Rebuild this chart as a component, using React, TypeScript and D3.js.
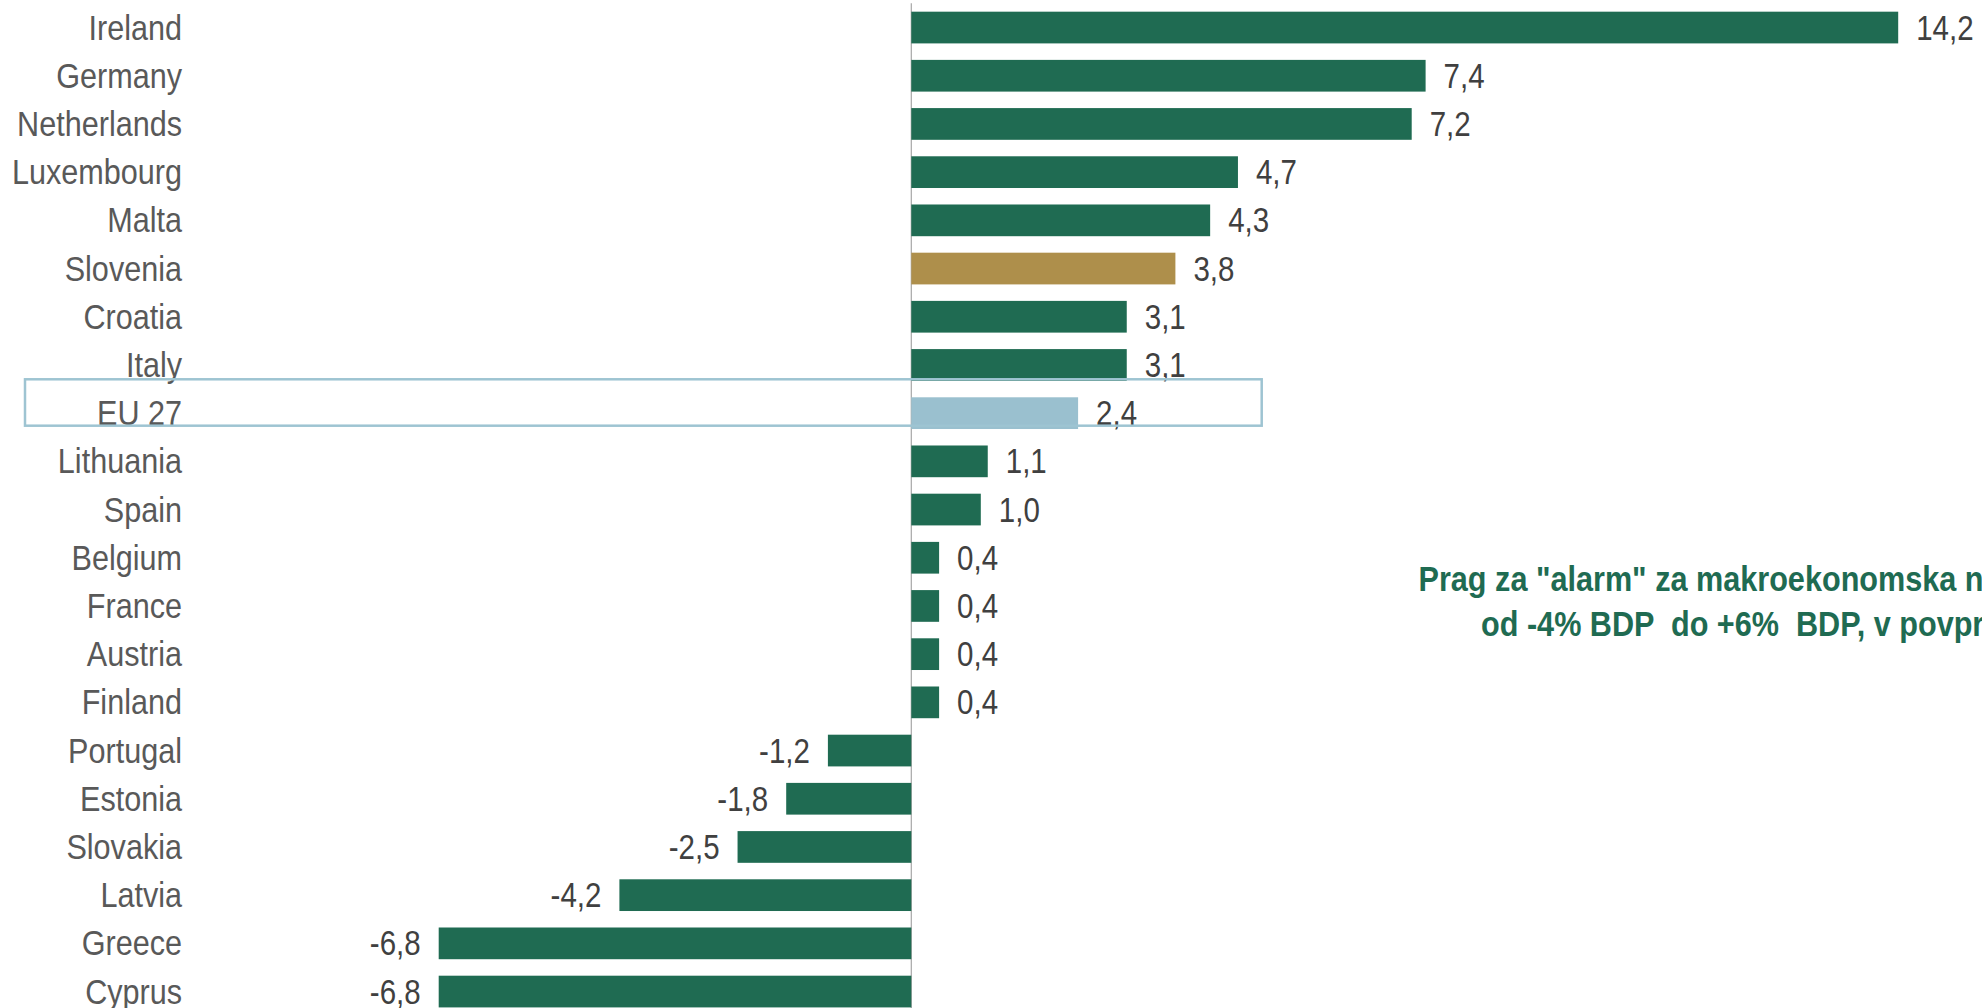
import React from "react";
import * as d3 from "d3";

const countries = [
  "Ireland", "Germany", "Netherlands", "Luxembourg", "Malta", "Slovenia", "Croatia", "Italy",
  "EU 27", "Lithuania", "Spain", "Belgium", "France", "Austria", "Finland", "Portugal",
  "Estonia", "Slovakia", "Latvia", "Greece", "Cyprus",
];
const values = [14.2, 7.4, 7.2, 4.7, 4.3, 3.8, 3.1, 3.1, 2.4, 1.1, 1.0, 0.4, 0.4, 0.4, 0.4, -1.2, -1.8, -2.5, -4.2, -6.8, -6.8];
const highlightSlovenia = "Slovenia";
const highlightEU = "EU 27";
const noteLines = [
  "Prag za \"alarm\" za makroekonomska neravnotežja:",
  "od -4% BDP  do +6%  BDP, v povprečju treh let",
];

const W = 1982;
const H = 1008;
const GREEN = "#1f6b52";
const GOLD = "#ae8f4b";
const LIGHTBLUE = "#9ac0cf";
const NARROW_CAT = 0.85;
const NARROW_VAL = 0.82;
const NARROW_NOTE = 0.875;
const FONT = "'Liberation Sans', Arial, sans-serif";

const fmt = (v: number) => d3.format(".1f")(v).replace(".", ",").replace("\u2212", "-");

export default function App() {
  const x = d3.scaleLinear().domain([-8, 15]).range([911.3 - 8 * 69.5, 911.3 + 15 * 69.5]);
  const y = d3.scaleBand<string>().domain(countries).range([-4.8, 1023.9]).padding(0.342);
  const x0 = x(0);
  const bw = y.bandwidth();
  const euY = y(highlightEU)!;

  const colorOf = (c: string) => (c === highlightSlovenia ? GOLD : c === highlightEU ? LIGHTBLUE : GREEN);

  return (
    <svg width={W} height={H} style={{ position: "absolute", left: 0, top: 0, background: "#fff" }}>
      <line x1={x0} x2={x0} y1={3.3} y2={H} stroke="#a6a6a6" strokeWidth={1.2} />
      {countries.map((c, i) => {
        const v = values[i];
        const yy = y(c)!;
        const cy = yy + bw / 2;
        const xs = Math.min(x(v), x0);
        const w = Math.abs(x(v) - x0);
        const lx = v >= 0 ? x(v) + 18 : x(v) - 18;
        return (
          <g key={c}>
            <rect x={xs} y={yy} width={w} height={bw} fill={colorOf(c)} />
            <g transform={`translate(182,${cy - 1}) scale(${NARROW_CAT},1)`}>
              <text textAnchor="end" dy="0.36em" fontSize={36} fontFamily={FONT} fill="#595959">{c}</text>
            </g>
            <g transform={`translate(${lx},${cy - 1}) scale(${NARROW_VAL},1)`}>
              <text textAnchor={v >= 0 ? "start" : "end"} dy="0.36em" fontSize={36} fontFamily={FONT} fill="#404040">{fmt(v)}</text>
            </g>
          </g>
        );
      })}
      <rect x={25} y={euY - 18} width={1236.7} height={46.4} fill="none" stroke="#9ec4d2" strokeWidth={2.5} />
      <g transform={`translate(1418.5,591) scale(${NARROW_NOTE},1)`}>
        <text fontSize={35} fontWeight="bold" fontFamily={FONT} fill={GREEN}>{noteLines[0]}</text>
      </g>
      <g transform={`translate(1481,636) scale(${NARROW_NOTE},1)`}>
        <text fontSize={35} fontWeight="bold" fontFamily={FONT} fill={GREEN} style={{ whiteSpace: "pre" }}>{noteLines[1]}</text>
      </g>
    </svg>
  );
}
